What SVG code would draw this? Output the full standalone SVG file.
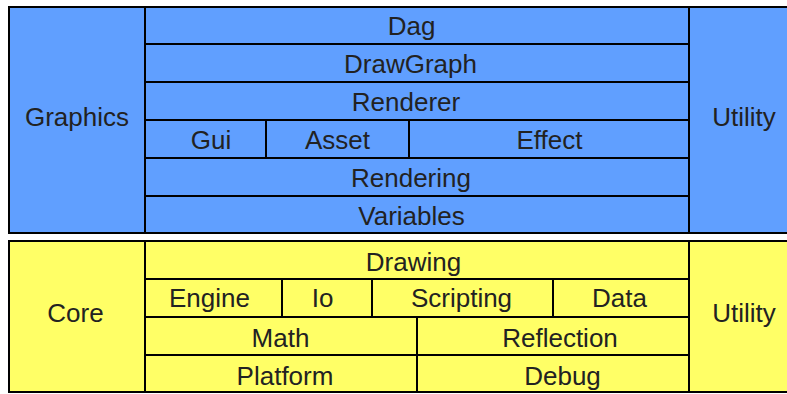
<svg xmlns="http://www.w3.org/2000/svg" width="787" height="394" viewBox="0 0 787 394">
<style>
.b{fill:#609fff;stroke:#000;stroke-width:2}
.y{fill:#ffff66;stroke:#000;stroke-width:2}
text{font-family:"Liberation Sans",Arial,sans-serif;font-size:26px;fill:#222;text-anchor:middle}
</style>
<rect x="0" y="0" width="787" height="394" fill="#fff"/>
<g id="graphics"><rect class="b" x="9" y="7" width="136" height="226"/><text x="77" y="126">Graphics</text></g>
<g id="utility-top"><rect class="b" x="689" y="7" width="110" height="226"/><text x="744" y="126">Utility</text></g>
<g id="dag"><rect class="b" x="145" y="7" width="544" height="37"/><text x="411.5" y="34.7">Dag</text></g>
<g id="drawgraph"><rect class="b" x="145" y="44" width="544" height="38"/><text x="410.5" y="73">DrawGraph</text></g>
<g id="renderer"><rect class="b" x="145" y="82" width="544" height="38"/><text x="406" y="111">Renderer</text></g>
<g id="gui"><rect class="b" x="145" y="120" width="121" height="38"/><text x="211" y="149">Gui</text></g>
<g id="asset"><rect class="b" x="266" y="120" width="143" height="38"/><text x="337.5" y="149">Asset</text></g>
<g id="effect"><rect class="b" x="409" y="120" width="280" height="38"/><text x="549.5" y="149">Effect</text></g>
<g id="rendering"><rect class="b" x="145" y="158" width="544" height="38"/><text x="411" y="187">Rendering</text></g>
<g id="variables"><rect class="b" x="145" y="196" width="544" height="37"/><text x="411.5" y="224.5">Variables</text></g>
<g id="core"><rect class="y" x="9" y="241" width="136" height="151"/><text x="75.5" y="321.7">Core</text></g>
<g id="utility-bottom"><rect class="y" x="689" y="241" width="110" height="151"/><text x="744" y="322">Utility</text></g>
<g id="drawing"><rect class="y" x="145" y="241" width="544" height="38"/><text x="413.5" y="270.5">Drawing</text></g>
<g id="engine"><rect class="y" x="145" y="279" width="137" height="38"/><text x="209.5" y="306.7">Engine</text></g>
<g id="io"><rect class="y" x="282" y="279" width="90" height="38"/><text x="322.5" y="306.7">Io</text></g>
<g id="scripting"><rect class="y" x="372" y="279" width="181" height="38"/><text x="461.5" y="306.7">Scripting</text></g>
<g id="data"><rect class="y" x="553" y="279" width="136" height="38"/><text x="619.5" y="306.7">Data</text></g>
<g id="math"><rect class="y" x="145" y="317" width="272" height="38"/><text x="280.5" y="346.5">Math</text></g>
<g id="reflection"><rect class="y" x="417" y="317" width="272" height="38"/><text x="560" y="346.7">Reflection</text></g>
<g id="platform"><rect class="y" x="145" y="355" width="272" height="37"/><text x="285" y="385">Platform</text></g>
<g id="debug"><rect class="y" x="417" y="355" width="272" height="37"/><text x="562.5" y="385">Debug</text></g>
<g id="connectors"></g>
</svg>
